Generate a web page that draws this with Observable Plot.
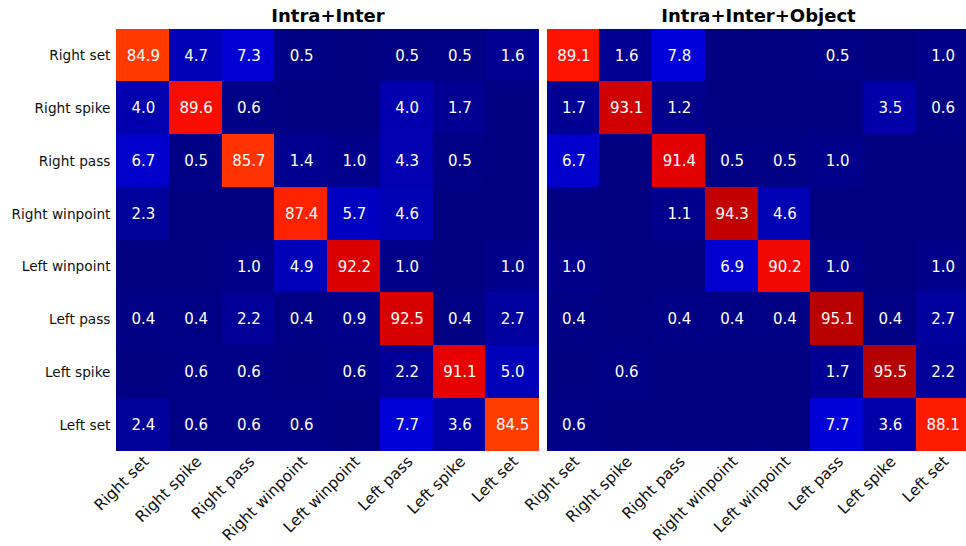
<!DOCTYPE html>
<html>
<head>
<meta charset="utf-8">
<script src="https://cdn.jsdelivr.net/npm/d3@7"></script>
<script src="https://cdn.jsdelivr.net/npm/@observablehq/plot@0.6"></script>
<style>
  html, body { margin: 0; padding: 0; background: #fff; }
  #wrap { position: relative; width: 966px; height: 546px; overflow: hidden; font-family: "DejaVu Sans", sans-serif; }
  #wrap > div { position: absolute; top: 0; height: 546px; }
  #wrap svg { max-width: none !important; display: block; }
</style>
</head>
<body>
<div id="wrap"><div id="p1" style="left:0px;width:539px"></div><div id="p2" style="left:547px;width:423px"></div></div>
<script>
const classes = ["Right set", "Right spike", "Right pass", "Right winpoint", "Left winpoint", "Left pass", "Left spike", "Left set"];
const titles = ["Intra+Inter", "Intra+Inter+Object"];

// rows = true class, columns = predicted class (0 = empty cell)
const matrixIntraInter = [
  [84.9, 4.7, 7.3, 0.5, 0, 0.5, 0.5, 1.6],
  [4.0, 89.6, 0.6, 0, 0, 4.0, 1.7, 0],
  [6.7, 0.5, 85.7, 1.4, 1.0, 4.3, 0.5, 0],
  [2.3, 0, 0, 87.4, 5.7, 4.6, 0, 0],
  [0, 0, 1.0, 4.9, 92.2, 1.0, 0, 1.0],
  [0.4, 0.4, 2.2, 0.4, 0.9, 92.5, 0.4, 2.7],
  [0, 0.6, 0.6, 0, 0.6, 2.2, 91.1, 5.0],
  [2.4, 0.6, 0.6, 0.6, 0, 7.7, 3.6, 84.5]
];
const matrixIntraInterObject = [
  [89.1, 1.6, 7.8, 0, 0, 0.5, 0, 1.0],
  [1.7, 93.1, 1.2, 0, 0, 0, 3.5, 0.6],
  [6.7, 0, 91.4, 0.5, 0.5, 1.0, 0, 0],
  [0, 0, 1.1, 94.3, 4.6, 0, 0, 0],
  [1.0, 0, 0, 6.9, 90.2, 1.0, 0, 1.0],
  [0.4, 0, 0.4, 0.4, 0.4, 95.1, 0.4, 2.7],
  [0, 0.6, 0, 0, 0, 1.7, 95.5, 2.2],
  [0.6, 0, 0, 0, 0, 7.7, 3.6, 88.1]
];

// matplotlib "jet" colormap
function seg(points, t) {
  for (let i = 1; i < points.length; i++) {
    if (t <= points[i][0]) {
      const [x0, y0] = points[i - 1], [x1, y1] = points[i];
      return y0 + (y1 - y0) * (t - x0) / (x1 - x0);
    }
  }
  return points[points.length - 1][1];
}
const R = [[0, 0], [0.35, 0], [0.66, 1], [0.89, 1], [1, 0.5]];
const G = [[0, 0], [0.125, 0], [0.375, 1], [0.64, 1], [0.91, 0], [1, 0]];
const B = [[0, 0.5], [0.11, 1], [0.34, 1], [0.65, 0], [1, 0]];
function jet(t) {
  t = Math.max(0, Math.min(1, t));
  const c = v => Math.round(255 * v);
  return `rgb(${c(seg(R, t))},${c(seg(G, t))},${c(seg(B, t))})`;
}

function toTable(m) {
  const out = [];
  m.forEach((row, i) => row.forEach((v, j) => out.push({truth: classes[i], pred: classes[j], v})));
  return out;
}

function panel(m, title, showY, opts) {
  const data = toTable(m);
  const marks = [
    Plot.cell(data, {x: "pred", y: "truth", fill: "v", inset: -0.3, shapeRendering: "crispEdges"}),
    Plot.text(data.filter(d => d.v > 0), {x: "pred", y: "truth", text: d => d.v.toFixed(1), fill: "white", fontSize: 15}),
    Plot.text(classes, {x: d => d, frameAnchor: "bottom", dx: 6.5, dy: 11, rotate: -45, textAnchor: "end", lineAnchor: "bottom", fontSize: 15.5, fill: "#111"}),
    Plot.text([title], {frameAnchor: "top", dy: -8, lineAnchor: "bottom", fontSize: 18, fontWeight: "bold", fill: "#000"})
  ];
  if (showY) marks.push(Plot.axisY({tickSize: 0, tickPadding: 6.5, fontSize: 13.7, label: null, fill: "#111"}));
  return Plot.plot({
    width: opts.width,
    height: 546,
    marginLeft: opts.marginLeft,
    marginRight: 0,
    marginTop: 29,
    marginBottom: 95,
    style: {fontFamily: "DejaVu Sans", fontSize: "14px", background: "transparent", overflow: "visible"},
    x: {domain: classes, padding: 0, round: false, axis: null},
    y: {domain: classes, padding: 0, round: false, axis: null},
    color: {type: "linear", domain: [0, 100], interpolate: jet},
    marks
  });
}

document.getElementById("p1").appendChild(panel(matrixIntraInter, titles[0], true, {width: 538.5, marginLeft: 116.5}));
document.getElementById("p2").appendChild(panel(matrixIntraInterObject, titles[1], false, {width: 422, marginLeft: 0}));
</script>
</body>
</html>
